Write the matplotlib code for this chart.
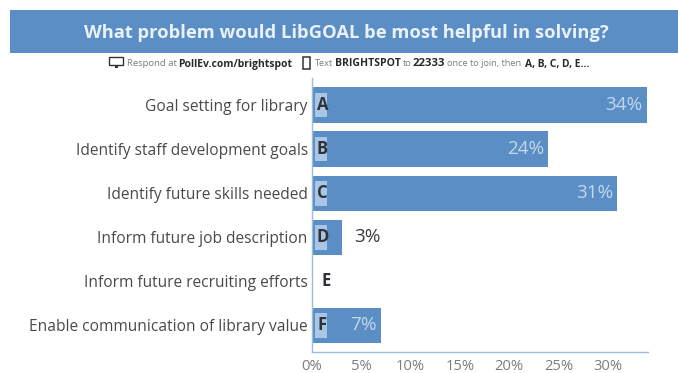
import matplotlib
matplotlib.use("Agg")
import matplotlib.pyplot as plt
from matplotlib.patches import Rectangle

W, H = 678, 373
categories = ["Goal setting for library", "Identify staff development goals",
              "Identify future skills needed", "Inform future job description",
              "Inform future recruiting efforts", "Enable communication of library value"]
letters = ["A", "B", "C", "D", "E", "F"]
values = [34, 24, 31, 3, 0, 7]
ticks = [0, 5, 10, 15, 20, 25, 30]
title = "What problem would LibGOAL be most helpful in solving?"

BLUE = "#5b8ec4"
DARK = "#2f3338"
GREY = "#7a7c80"
plt.rcParams["font.family"] = ["Open Sans", "DejaVu Sans"]

fig = plt.figure(figsize=(W / 100, H / 100), dpi=100)

def px_axes(x0, y0, x1, y1):
    return fig.add_axes([x0 / W, 1 - y1 / H, (x1 - x0) / W, (y1 - y0) / H])

# Header band
fig.patches.append(Rectangle((10 / W, 1 - 53 / H), (W - 10) / W, 43 / H,
                             transform=fig.transFigure, fc=BLUE, ec="none"))
fig.text(346 / W, 1 - 33 / H, title, color="#e9f1fa", fontsize=13.25,
         fontweight="bold", ha="center", va="center")

# Polling instructions, a run of plain and bold fragments
y_sub = 1 - 64 / H
fragments = [(127, "Respond at", 6.8, "normal", GREY),
             (178, "PollEv.com/brightspot", 7.5, "bold", "#2a2a2a"),
             (315, "Text", 6.6, "normal", GREY),
             (335, "BRIGHTSPOT", 7.6, "bold", "#2a2a2a"),
             (403, "to", 6.6, "normal", GREY),
             (413, "22333", 8.2, "bold", "#2a2a2a"),
             (447, "once to join, then", 6.6, "normal", GREY),
             (525, "A, B, C, D, E...", 7.4, "bold", "#2a2a2a")]
for x, text, size, weight, colour in fragments:
    fig.text(x / W, y_sub, text, fontsize=size, fontweight=weight, color=colour,
             ha="left", va="center")

# Monitor and phone glyphs
fig.patches.append(Rectangle((109 / W, 1 - 65 / H), 14 / W, 8 / H, transform=fig.transFigure,
                             fc="white", ec="#333333", lw=1))
fig.patches.append(Rectangle((114.5 / W, 1 - 68 / H), 3 / W, 3 / H, transform=fig.transFigure,
                             fc="#333333", ec="none"))
fig.patches.append(Rectangle((303 / W, 1 - 69 / H), 7 / W, 12 / H, transform=fig.transFigure,
                             fc="white", ec="#333333", lw=1.1))

# Bar chart
ax = px_axes(312, 78, 648, 352)
ax.set_xlim(0, 34.1)
ax.set_ylim(5.601, -0.612)
ax.barh(range(len(values)), values, height=0.8, color=BLUE, edgecolor="none")
for s in ("top", "right"):
    ax.spines[s].set_visible(False)
for s in ("left", "bottom"):
    ax.spines[s].set_color("#9dbbdc")
    ax.spines[s].set_linewidth(1)
ax.set_xticks(ticks, [f"{t}%" for t in ticks], fontsize=10.6, color=GREY)
ax.tick_params(axis="x", length=0, pad=5)
ax.set_yticks(range(len(categories)), categories, fontsize=11.2, color="#4a4a4a")
ax.tick_params(axis="y", length=0, pad=3)

for i, (letter, v) in enumerate(zip(letters, values)):
    if v:
        ax.add_patch(Rectangle((0.35, i - 0.28), 1.2, 0.56, fc="#a9c6e6", ec="none"))
    ax.annotate(letter, xy=(0, i), xytext=(7.5 if v else 10, 0), textcoords="offset points",
                ha="center", va="center", fontsize=12, fontweight="bold", color=DARK)
    if v >= 5:
        ax.annotate(f"{v}%", xy=(v, i), xytext=(-3, 0), textcoords="offset points",
                    ha="right", va="center", fontsize=13.6, color="#c3d8ee")
    elif v > 0:
        ax.annotate(f"{v}%", xy=(v, i), xytext=(9, 0), textcoords="offset points",
                    ha="left", va="center", fontsize=13.6, color="#3c3c3c")

fig.savefig("out.png", dpi=100)
